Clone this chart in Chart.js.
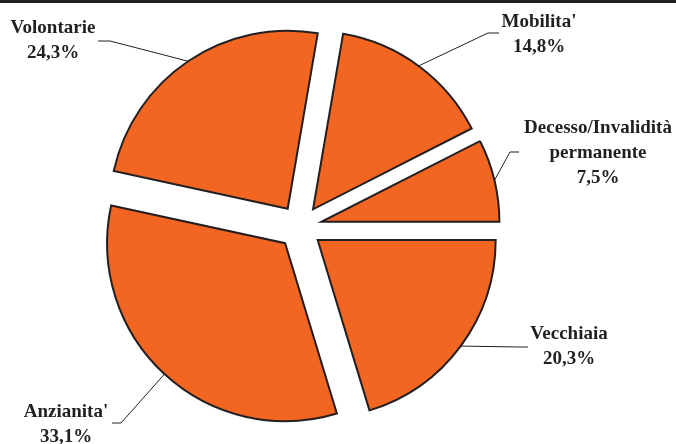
<!DOCTYPE html>
<html>
<head>
<meta charset="utf-8">
<script src="https://cdn.jsdelivr.net/npm/chart.js@4"></script>
<style>
  body { margin: 0; background: #fff; }
  canvas { display: block; }
</style>
</head>
<body>
<canvas id="pie-chart" width="676" height="444"></canvas>
<script>
// Motivi di cessazione (%)
var categorie = ["Mobilita'", ['Decesso/Invalidità', 'permanente'], 'Vecchiaia', "Anzianita'", 'Volontarie'];
var percentuali = [14.8, 7.5, 20.3, 33.1, 24.3];

var arancio = '#F36621';
var scuro = '#231F20';
var esplosione = 22;

// posizione delle etichette: centro x, prima linea di base, punto d'attacco della linea guida
var etichette = [
    { x: 539, y: 27, linea: [[499, 33], [488, 33]] },
    { x: 598, y: 133, linea: [[519, 152], [510, 152]] },
    { x: 569, y: 339, linea: [[528, 347], [518, 347]] },
    { x: 66, y: 417, linea: [[112, 423], [121, 423]] },
    { x: 53, y: 33, linea: [[98, 41], [110, 41]] }
];

var barraSuperiore = {
    id: 'barraSuperiore',
    afterDraw: function(chart) {
        var ctx = chart.ctx;
        ctx.save();
        ctx.fillStyle = scuro;
        ctx.fillRect(0, 0, chart.width, 3);
        ctx.restore();
    }
};

// spicchi staccati dal centro
var torta = {
    id: 'tortaEsplosa',
    beforeDatasetDraw: function(chart, args) {
        var ctx = chart.ctx;
        args.meta.data.forEach(function(arc) {
            var mid = (arc.startAngle + arc.endAngle) / 2;
            ctx.save();
            ctx.translate(Math.cos(mid) * esplosione, Math.sin(mid) * esplosione);
            arc.draw(ctx, chart.chartArea);
            ctx.restore();
        });
        return false;
    }
};

var testi = {
    id: 'etichette',
    afterDatasetsDraw: function(chart) {
        var ctx = chart.ctx;
        var arcs = chart.getDatasetMeta(0).data;
        ctx.save();
        arcs.forEach(function(arc, i) {
            var mid = (arc.startAngle + arc.endAngle) / 2;
            var r = arc.outerRadius + esplosione;
            var ex = arc.x + Math.cos(mid) * r;
            var ey = arc.y + Math.sin(mid) * r;
            var et = etichette[i];

            ctx.strokeStyle = scuro;
            ctx.lineWidth = 1;
            ctx.beginPath();
            ctx.moveTo(et.linea[0][0], et.linea[0][1]);
            ctx.lineTo(et.linea[1][0], et.linea[1][1]);
            ctx.lineTo(ex, ey);
            ctx.stroke();

            var righe = [].concat(categorie[i]);
            righe.push(percentuali[i].toFixed(1).replace('.', ',') + '%');
            ctx.fillStyle = scuro;
            ctx.font = 'bold 19px "Liberation Serif", serif';
            ctx.textAlign = 'center';
            ctx.textBaseline = 'alphabetic';
            righe.forEach(function(testo, j) {
                ctx.fillText(testo, et.x, et.y + j * 25);
            });
        });
        ctx.restore();
    }
};

new Chart(document.getElementById('pie-chart'), {
    type: 'pie',
    data: {
        labels: categorie,
        datasets: [{
            data: percentuali,
            backgroundColor: arancio,
            borderColor: scuro,
            borderWidth: 2,
            borderJoinStyle: 'miter',
            hoverOffset: 0
        }]
    },
    options: {
        responsive: false,
        animation: false,
        rotation: 9.72,
        radius: 178,
        layout: {
            padding: { left: 0, right: 76, top: 10, bottom: 0 }
        },
        plugins: {
            legend: { display: false },
            tooltip: { enabled: false }
        },
        events: []
    },
    plugins: [torta, testi, barraSuperiore]
});
</script>
</body>
</html>
